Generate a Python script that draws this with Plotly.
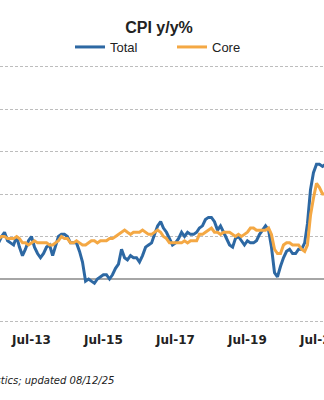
import pandas as pd
import plotly.graph_objects as go

# Monthly dates, Jul-2012 .. Sep-2021
months = pd.date_range("2012-07-01", "2021-09-01", freq="MS")

total = [
    1.4, 1.7, 2.0, 2.2, 1.8, 1.7,
    1.6, 2.0, 1.5, 1.1, 1.4, 1.8, 2.0, 1.5, 1.2, 1.0, 1.2, 1.5,
    1.6, 1.1, 1.5, 2.0, 2.1, 2.1, 2.0, 1.7, 1.7, 1.7, 1.3, 0.8,
    -0.1, 0.0, -0.1, -0.2, 0.0, 0.1, 0.2, 0.2, 0.0, 0.2, 0.5, 0.7,
    1.4, 1.0, 0.9, 1.1, 1.0, 1.0, 0.8, 1.1, 1.5, 1.6, 1.7, 2.1,
    2.5, 2.7, 2.4, 2.2, 1.9, 1.6, 1.7, 1.9, 2.2, 2.0, 2.2, 2.1,
    2.1, 2.2, 2.4, 2.5, 2.8, 2.9, 2.9, 2.7, 2.3, 2.5, 2.2, 1.9,
    1.6, 1.5, 1.9, 2.0, 1.8, 1.6, 1.8, 1.7, 1.7, 1.8, 2.1, 2.3,
    2.5, 2.3, 1.5, 0.3, 0.1, 0.6, 1.0, 1.3, 1.4, 1.2, 1.2, 1.4,
    1.4, 1.7, 2.6, 4.2, 5.0, 5.4, 5.4, 5.3, 5.4,
]

core = [
    2.1, 1.9, 2.0, 2.0, 1.9, 1.9,
    1.9, 2.0, 1.9, 1.7, 1.7, 1.6, 1.7, 1.8, 1.7, 1.7, 1.7, 1.7,
    1.6, 1.6, 1.7, 1.8, 2.0, 1.9, 1.9, 1.7, 1.7, 1.8, 1.7, 1.6,
    1.6, 1.7, 1.8, 1.8, 1.7, 1.8, 1.8, 1.8, 1.9, 1.9, 2.0, 2.1,
    2.2, 2.3, 2.2, 2.1, 2.2, 2.2, 2.2, 2.3, 2.2, 2.1, 2.1, 2.2,
    2.3, 2.2, 2.0, 1.9, 1.7, 1.7, 1.7, 1.7, 1.7, 1.8, 1.7, 1.8,
    1.8, 1.8, 2.1, 2.1, 2.2, 2.3, 2.4, 2.2, 2.2, 2.1, 2.2, 2.2,
    2.2, 2.1, 2.0, 2.1, 2.0, 2.1, 2.2, 2.4, 2.4, 2.3, 2.3, 2.3,
    2.3, 2.4, 2.1, 1.4, 1.2, 1.2, 1.6, 1.7, 1.7, 1.6, 1.6, 1.6,
    1.4, 1.3, 1.6, 3.0, 3.8, 4.5, 4.3, 4.0, 4.0,
]

tick_dates = ["2011-07-01", "2013-07-01", "2015-07-01", "2017-07-01", "2019-07-01", "2021-07-01"]
tick_labels = ["Jul-11", "Jul-13", "Jul-15", "Jul-17", "Jul-19", "Jul-21"]

TOP, BOT = 61, 74
PH = 400 - TOP - BOT  # plot height in px
PX_PER_UNIT = 21.25
Y0_PX = 279  # pixel row of the zero line
y_lo = -(400 - BOT - Y0_PX) / PX_PER_UNIT
y_hi = (Y0_PX - TOP) / PX_PER_UNIT


def py(px):
    """figure pixel row -> paper y"""
    return (400 - BOT - px) / PH


fig = go.Figure()
fig.add_trace(go.Scatter(x=months, y=total, name="Total", mode="lines",
                         line=dict(color="#2D68A3", width=3)))
fig.add_trace(go.Scatter(x=months, y=core, name="Core", mode="lines",
                         line=dict(color="#F4A844", width=3)))

fig.update_layout(
    width=324, height=400,
    margin=dict(l=0, r=0, t=TOP, b=BOT, autoexpand=False),
    paper_bgcolor="white", plot_bgcolor="white",
    title=dict(text="CPI y/y%", x=159/324, xanchor="center", y=1 - 27/400, yanchor="middle",
               font=dict(family="Liberation Sans, Arial", size=16, color="#222222", weight="bold")),
    legend=dict(orientation="h", x=70/324, xanchor="left", y=py(47), yanchor="middle",
                font=dict(family="Liberation Sans, Arial", size=13, color="#222222"),
                entrywidth=57, entrywidthmode="pixels", bgcolor="rgba(0,0,0,0)"),
    showlegend=True,
    annotations=[dict(text="Source: Bureau of Labor Statistics; updated 08/12/25",
                      xref="paper", yref="paper", x=116/324, xanchor="right",
                      y=py(380), yanchor="middle", showarrow=False,
                      font=dict(family="DejaVu Sans", size=10, color="#222222", style="italic"))],
)

fig.update_xaxes(range=["2012-08-16", "2021-08-16"], tickvals=tick_dates, ticktext=tick_labels,
                 showgrid=False, showline=False, zeroline=False, ticks="",
                 automargin=False, ticklabeloverflow="allow", ticklabelstandoff=5,
                 tickfont=dict(family="DejaVu Sans", size=12, color="#222222", weight="bold"))
fig.update_yaxes(range=[y_lo, y_hi], tickvals=[-2, 0, 2, 4, 6, 8, 10], showticklabels=False,
                 showline=False, automargin=False,
                 showgrid=True, gridcolor="#BDBDBD", gridwidth=1, griddash="3px,2px",
                 zeroline=True, zerolinecolor="#A6A6A6", zerolinewidth=1.5)

fig.write_html("out.html")
